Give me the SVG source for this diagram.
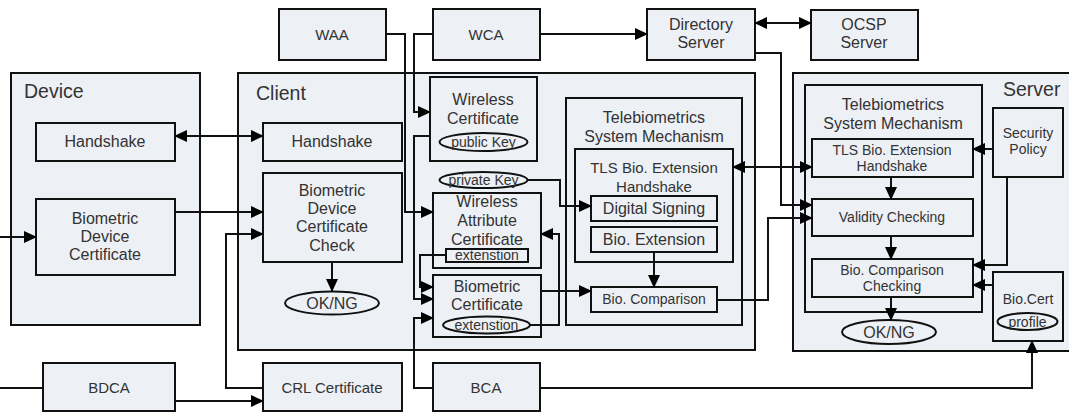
<svg xmlns="http://www.w3.org/2000/svg" width="1069" height="413" viewBox="0 0 1069 413">
<defs>
<marker id="ah" markerWidth="13" markerHeight="12" refX="12" refY="6" orient="auto-start-reverse" markerUnits="userSpaceOnUse"><path d="M0,0 L13,6 L0,12 z" fill="#000"/></marker>
<style>
rect,ellipse{fill:#edf0f5;stroke:#111;stroke-width:2}
.c path{fill:none;stroke:#111;stroke-width:2}
text{font-family:"Liberation Sans",Arial,sans-serif;fill:#333;text-anchor:middle;font-size:16px}
.t{font-size:19.5px;text-anchor:start}
.m{font-size:15px}
.s{font-size:14px}
</style>
</defs>
<g id="device"><rect x="11" y="73" width="189" height="252"/><text class="t" x="24" y="98">Device</text></g>
<g id="client"><rect x="238" y="73" width="517" height="277"/><text class="t" x="256" y="100">Client</text></g>
<g id="server"><rect x="793" y="73" width="277" height="278"/><text class="t" x="1003" y="96">Server</text></g>
<g id="waa"><rect x="279" y="9" width="107" height="51"/><text x="332" y="40" class="m">WAA</text></g>
<g id="wca"><rect x="433" y="9" width="107" height="51"/><text x="486" y="40" class="m">WCA</text></g>
<g id="directory"><rect x="647" y="9" width="108" height="51"/><text x="701" y="30">Directory</text><text x="701" y="48">Server</text></g>
<g id="ocsp"><rect x="811" y="10" width="107" height="50"/><text x="864" y="30">OCSP</text><text x="864" y="48">Server</text></g>
<g id="dev-handshake"><rect x="36" y="123" width="139" height="38"/><text x="105" y="147">Handshake</text></g>
<g id="dev-bdc"><rect x="36" y="199" width="139" height="76"/><text x="105" y="224">Biometric</text><text x="105" y="242">Device</text><text x="105" y="260">Certificate</text></g>
<g id="cl-handshake"><rect x="263" y="123" width="139" height="38"/><text x="332" y="147">Handshake</text></g>
<g id="cl-bdcc"><rect x="263" y="173" width="139" height="89"/><text x="332" y="196">Biometric</text><text x="332" y="214">Device</text><text x="332" y="232">Certificate</text><text x="332" y="251">Check</text></g>
<g id="cl-okng"><ellipse cx="332" cy="303" rx="47" ry="11.5"/><text x="332" y="309">OK/NG</text></g>
<g id="wireless-cert"><rect x="430" y="77" width="107" height="84"/><text x="483" y="105">Wireless</text><text x="483" y="124">Certificate</text><ellipse cx="483.5" cy="142" rx="44" ry="9"/><text x="483.5" y="147" class="s">public Key</text></g>
<g id="private-key"><ellipse cx="483.5" cy="180" rx="44" ry="8"/><text x="483.5" y="185" class="s">private Key</text></g>
<g id="wac"><rect x="433" y="193" width="108" height="75"/><text x="487" y="207">Wireless</text><text x="487" y="226">Attribute</text><text x="487" y="245">Certificate</text><rect x="446" y="249" width="82" height="13"/><text x="487" y="260" class="s">extenstion</text></g>
<g id="bio-cert"><rect x="433" y="275" width="108" height="62"/><text x="487" y="292">Biometric</text><text x="487" y="310">Certificate</text><ellipse cx="486.5" cy="325" rx="43.5" ry="8.5"/><text x="486.5" y="330" class="s">extenstion</text></g>
<g id="cl-tsm"><rect x="566" y="98" width="176" height="227"/><text x="654" y="123">Telebiometrics</text><text x="654" y="142">System Mechanism</text></g>
<g id="cl-tls"><rect x="575" y="149" width="158" height="113"/><text x="654" y="173" class="m">TLS Bio. Extension</text><text x="654" y="192" class="m">Handshake</text></g>
<g id="digital-signing"><rect x="591" y="196" width="126" height="25"/><text x="654" y="214">Digital Signing</text></g>
<g id="bio-extension"><rect x="591" y="227" width="126" height="25"/><text x="654" y="245">Bio. Extension</text></g>
<g id="bio-comparison"><rect x="591" y="287" width="126" height="25"/><text x="654" y="304" class="s">Bio. Comparison</text></g>
<g id="sv-tsm"><rect x="805" y="85" width="177" height="227"/><text x="893" y="110">Telebiometrics</text><text x="893" y="129">System Mechanism</text></g>
<g id="sv-tls"><rect x="812" y="139" width="161" height="38"/><text x="892" y="155" class="s">TLS Bio. Extension</text><text x="892" y="171" class="s">Handshake</text></g>
<g id="validity"><rect x="812" y="199" width="161" height="37"/><text x="892" y="222" class="s">Validity Checking</text></g>
<g id="bcc"><rect x="812" y="259" width="161" height="38"/><text x="892" y="275" class="s">Bio. Comparison</text><text x="892" y="291" class="s">Checking</text></g>
<g id="sv-okng"><ellipse cx="889" cy="332" rx="47" ry="12"/><text x="889" y="338">OK/NG</text></g>
<g id="security-policy"><rect x="993" y="108" width="70" height="69"/><text x="1028" y="138" class="s">Security</text><text x="1028" y="154" class="s">Policy</text></g>
<g id="bio-cert-sv"><rect x="993" y="272" width="70" height="69"/><text x="1028" y="304" class="s">Bio.Cert</text><ellipse cx="1027.5" cy="321.5" rx="30" ry="8.5"/><text x="1027.5" y="327" class="s">profile</text></g>
<g id="bdca"><rect x="43" y="363" width="132" height="48"/><text x="109" y="393" class="m">BDCA</text></g>
<g id="crl"><rect x="263" y="363" width="139" height="48"/><text x="332" y="393" class="m">CRL Certificate</text></g>
<g id="bca"><rect x="433" y="363" width="107" height="48"/><text x="486" y="393" class="m">BCA</text></g>
<g class="c" id="connectors">
<path d="M175,136 H263" marker-start="url(#ah)" marker-end="url(#ah)"/>
<path d="M0,237 H36" marker-end="url(#ah)"/>
<path d="M175,212 H263" marker-end="url(#ah)"/>
<path d="M263,388 H226 V234 H263" marker-end="url(#ah)"/>
<path d="M332,262 V291" marker-end="url(#ah)"/>
<path d="M0,388 H43"/>
<path d="M175,401 H263" marker-end="url(#ah)"/>
<path d="M433,388 H414 V318 H433" marker-end="url(#ah)"/>
<path d="M540,388 H1032 V341" marker-end="url(#ah)"/>
<path d="M386,34 H405 V212 H433" marker-end="url(#ah)"/>
<path d="M433,34 H414 V112 H430" marker-end="url(#ah)"/>
<path d="M430,136 H414 V299 H433" marker-end="url(#ah)"/>
<path d="M540,34 H647" marker-end="url(#ah)"/>
<path d="M755,23 H811" marker-start="url(#ah)" marker-end="url(#ah)"/>
<path d="M755,53 H781 V205 H812" marker-end="url(#ah)"/>
<path d="M446,255 H420 V287 H433" marker-end="url(#ah)"/>
<path d="M530,325 H559 V234 H541" marker-end="url(#ah)"/>
<path d="M541,291 H591" marker-end="url(#ah)"/>
<path d="M528,180 H560 V206 H591" marker-end="url(#ah)"/>
<path d="M654,252 V287" marker-end="url(#ah)"/>
<path d="M717,300 H768 V218 H812" marker-end="url(#ah)"/>
<path d="M733,167 H812" marker-start="url(#ah)" marker-end="url(#ah)"/>
<path d="M891,177 V199" marker-end="url(#ah)"/>
<path d="M891,236 V259" marker-end="url(#ah)"/>
<path d="M891,297 V320" marker-end="url(#ah)"/>
<path d="M993,149 H973" marker-end="url(#ah)"/>
<path d="M1007,177 V265 H973" marker-end="url(#ah)"/>
<path d="M993,285 H973" marker-end="url(#ah)"/>
</g>
</svg>
